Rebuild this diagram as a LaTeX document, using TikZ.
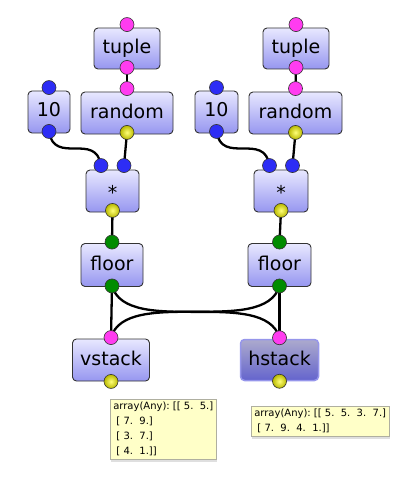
\documentclass[tikz,border=0pt]{standalone}
\usepackage{fontspec}
\setmainfont{DejaVu Sans}
\usetikzlibrary{calc,backgrounds,shadows}

\definecolor{lavtop}{RGB}{232,232,255}
\definecolor{lavbot}{RGB}{150,150,240}
\definecolor{seltop}{RGB}{172,170,205}
\definecolor{selbot}{RGB}{100,100,205}
\definecolor{selbd}{RGB}{150,150,235}
\definecolor{pinkp}{RGB}{255,60,240}
\definecolor{bluep}{RGB}{45,45,245}
\definecolor{greenp}{RGB}{0,140,0}
\definecolor{yin}{RGB}{255,255,120}
\definecolor{yout}{RGB}{185,185,0}
\definecolor{tipfill}{RGB}{255,255,200}
\definecolor{tipbd}{RGB}{175,175,160}

\begin{document}
\begin{tikzpicture}[x=1pt,y=-1pt,
 blk/.style={rectangle, rounded corners=4pt, draw=black!80, line width=0.9pt,
   top color=lavtop, bottom color=lavbot, inner sep=0pt,
   text height=14pt, text depth=4pt, font=\fontsize{19}{19}\selectfont},
 selblk/.style={blk, draw=selbd, line width=1.5pt, top color=seltop, bottom color=selbot},
 port/.style={circle, draw=black!80, line width=0.6pt, minimum size=14pt, inner sep=0pt},
 pp/.style={port, fill=pinkp},
 bp/.style={port, fill=bluep},
 gp/.style={port, fill=greenp},
 yp/.style={port, inner color=yin, outer color=yout},
 wire/.style={line width=2.3pt, black},
 tip/.style={rectangle, draw=tipbd, fill=tipfill, line width=0.6pt, align=left,
   inner sep=3pt, anchor=north west, font=\fontsize{10}{15}\selectfont,
   drop shadow={opacity=0.25, shadow xshift=0.5pt, shadow yshift=-2.5pt}}
]
\useasboundingbox (0,0) rectangle (410,484);

% left column boxes
\node[blk, minimum width=66pt, minimum height=41pt] (tupL) at (127,48.5) {tuple};
\node[blk, minimum width=92pt, minimum height=42pt] (ranL) at (127,113) {random};
\node[blk, minimum width=42pt, minimum height=42pt] (tenL) at (49,112) {10};
\node[blk, minimum width=53pt, minimum height=42pt] (starL) at (112.5,191) {\raisebox{-3pt}{*}};
\node[blk, minimum width=62pt, minimum height=43pt] (floL) at (112,265) {floor};
\node[blk, minimum width=77pt, minimum height=42pt] (vst) at (111,360) {vstack};

% right column boxes
\node[blk, minimum width=66pt, minimum height=41pt] (tupR) at (296,48.5) {tuple};
\node[blk, minimum width=93pt, minimum height=42pt] (ranR) at (295.5,113) {random};
\node[blk, minimum width=43pt, minimum height=42pt] (tenR) at (216.5,112) {10};
\node[blk, minimum width=54pt, minimum height=42pt] (starR) at (281,191) {\raisebox{-3pt}{*}};
\node[blk, minimum width=63pt, minimum height=43pt] (floR) at (279.5,265) {floor};
\node[selblk, minimum width=78pt, minimum height=41pt] (hst) at (279.5,360) {hstack};

% ports left
\node[pp] (tLt) at ([yshift=3pt]tupL.north) {};
\node[pp] (tLb) at ([yshift=2pt]tupL.south) {};
\node[pp] (rLt) at ([yshift=3pt]ranL.north) {};
\node[yp] (rLb) at ([yshift=2pt]ranL.south) {};
\node[bp] (nLt) at ([yshift=3pt]tenL.north) {};
\node[bp] (nLb) at ([yshift=2pt]tenL.south) {};
\node[bp] (sLa) at ([xshift=-11.5pt,yshift=4pt]starL.north) {};
\node[bp] (sLc) at ([xshift=11.5pt,yshift=4pt]starL.north) {};
\node[yp] (sLo) at ([yshift=2pt]starL.south) {};
\node[gp] (fLt) at ([yshift=1pt]floL.north) {};
\node[gp] (fLb) at ([yshift=1pt]floL.south) {};
\node[pp] (vt) at ([yshift=1pt]vst.north) {};
\node[yp] (vb) at (vst.south) {};

% ports right
\node[pp] (tRt) at ([yshift=3pt]tupR.north) {};
\node[pp] (tRb) at ([yshift=2pt]tupR.south) {};
\node[pp] (rRt) at ([yshift=3pt]ranR.north) {};
\node[yp] (rRb) at ([yshift=2pt]ranR.south) {};
\node[bp] (nRt) at ([yshift=3pt]tenR.north) {};
\node[bp] (nRb) at ([yshift=2pt]tenR.south) {};
\node[bp] (sRa) at ([xshift=-11.5pt,yshift=4pt]starR.north) {};
\node[bp] (sRc) at ([xshift=11.5pt,yshift=4pt]starR.north) {};
\node[yp] (sRo) at ([yshift=2pt]starR.south) {};
\node[gp] (fRt) at ([yshift=1pt]floR.north) {};
\node[gp] (fRb) at ([yshift=1pt]floR.south) {};
\node[pp] (ht) at ([yshift=1pt]hst.north) {};
\node[yp] (hb) at (hst.south) {};

% wires
\begin{pgfonlayer}{background}
\draw[wire] (tLb.center) -- (rLt.center);
\draw[wire] (rLb.center) -- (sLc.center);
\draw[wire] (nLb.center) .. controls ($(nLb.center |- sLa.center)+(5,0)$) and ($(sLa.center |- nLb.center)+(-5,0)$) .. (sLa.center);
\draw[wire] (sLo.center) -- (fLt.center);
\draw[wire] (tRb.center) -- (rRt.center);
\draw[wire] (rRb.center) -- (sRc.center);
\draw[wire] (nRb.center) .. controls ($(nRb.center |- sRa.center)+(5,0)$) and ($(sRa.center |- nRb.center)+(-5,0)$) .. (sRa.center);
\draw[wire] (sRo.center) -- (fRt.center);
\draw[wire] (fLb.center) -- (vt.center);
\draw[wire] (fRb.center) -- (ht.center);
\draw[wire] (fLb.center) .. controls ($(fLb.center |- ht.center)+(15,0)$) and ($(ht.center |- fLb.center)+(-15,0)$) .. (ht.center);
\draw[wire] (fRb.center) .. controls ($(fRb.center |- vt.center)+(-15,0)$) and ($(vt.center |- fRb.center)+(15,0)$) .. (vt.center);
\end{pgfonlayer}

% tooltips
\node[tip] (tipL) at (110,399) {array(Any):~[[~5.~~5.]\\~[~7.~~9.]\\~[~3.~~7.]\\~[~4.~~1.]]};
\node[tip] (tipR) at (251,406) {array(Any):~[[~5.~~5.~~3.~~7.]\\~[~7.~~9.~~4.~~1.]]};
\end{tikzpicture}
\end{document}
